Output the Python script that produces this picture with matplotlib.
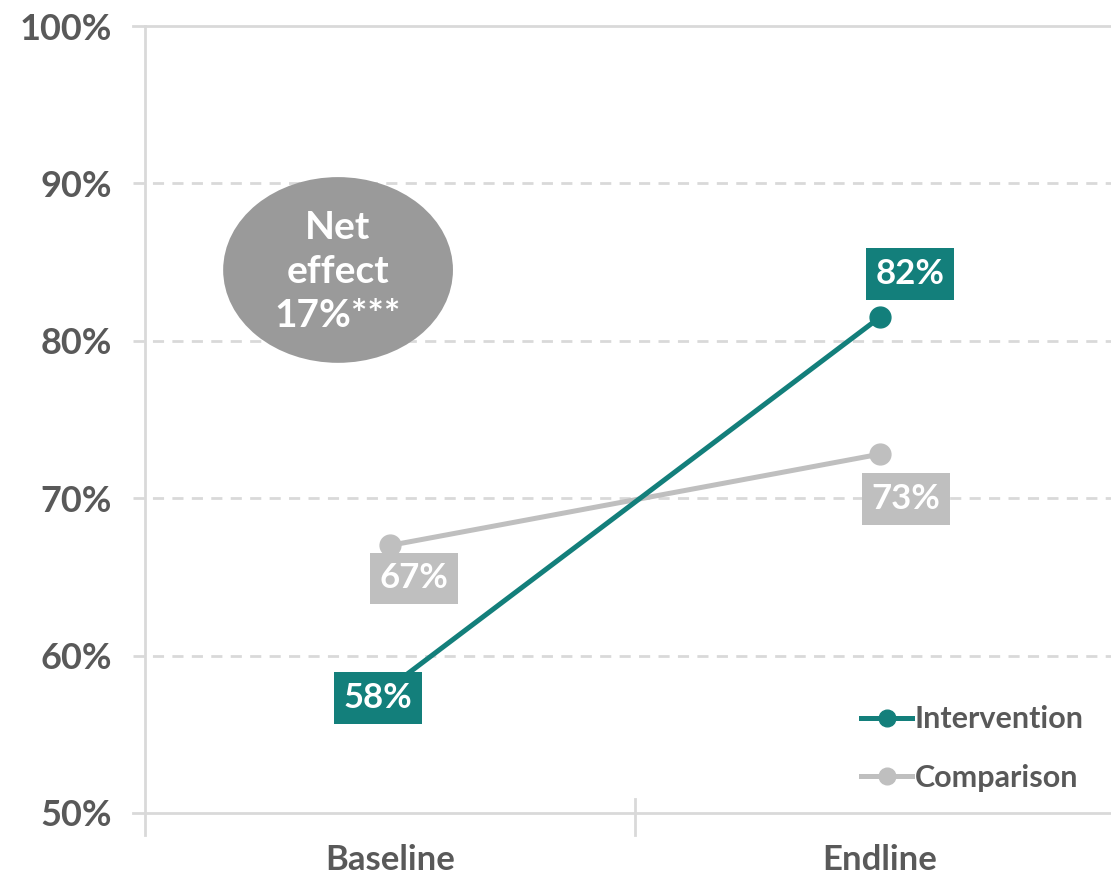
import matplotlib.pyplot as plt
from matplotlib.patches import Ellipse

# === DATA ===
categories = ["Baseline", "Endline"]
intervention = [58, 81.5]
comparison = [67, 72.8]
y_ticks = [50, 60, 70, 80, 90, 100]
net_effect = "Net\neffect\n17%***"

TEAL = "#137f7b"
GREY = "#bfbfbf"
TXT = "#595959"
GRID = "#d9d9d9"

plt.rcParams['font.family'] = ['Lato', 'DejaVu Sans']

fig = plt.figure(figsize=(11.11, 8.77), dpi=100)
ax = fig.add_axes([145 / 1111, 64 / 877, 980 / 1111, 787 / 877])

x = list(range(len(categories)))
ax.plot(x, comparison, color=GREY, lw=3.6, marker='o', ms=15, label="Comparison", zorder=3)
ax.plot(x, intervention, color=TEAL, lw=3.6, marker='o', ms=15, label="Intervention", zorder=4)

ax.set_xlim(-0.5, 1.5)
ax.set_ylim(50, 100)

# grid lines (dashed inside, solid at 50/100)
for v in y_ticks:
    ls = '-' if v in (50, 100) else (0, (4, 3))
    ax.plot([-0.525, 1.5], [v, v], color=GRID, lw=2, ls=ls, zorder=1, clip_on=False)
ax.plot([-0.5, -0.5], [48.6, 100], color=GRID, lw=2, zorder=1, clip_on=False)
ax.plot([0.5, 0.5], [48.6, 50.9], color=GRID, lw=2, zorder=1, clip_on=False)

for s in ax.spines.values():
    s.set_visible(False)
ax.set_yticks(y_ticks)
ax.set_yticklabels([f"{v}%" for v in y_ticks])
ax.set_xticks(x)
ax.set_xticklabels(categories)
ax.tick_params(axis='y', length=0, pad=24, labelsize=26, labelcolor=TXT)
ax.tick_params(axis='x', length=0, pad=22, labelsize=25, labelcolor=TXT)
for t in ax.get_yticklabels() + ax.get_xticklabels():
    t.set_fontweight('bold')

# value labels
offsets_int = [(-12, -11), (30, 43)]
offsets_cmp = [(24, -33), (26, -45)]
for i, v in enumerate(intervention):
    ax.annotate(f"{round(v)}%", (x[i], v), xytext=offsets_int[i], textcoords='offset pixels',
                ha='center', va='center', color='white', fontsize=25, fontweight='bold', zorder=6,
                bbox=dict(boxstyle='square,pad=0.28', fc=TEAL, ec='none'))
for i, v in enumerate(comparison):
    ax.annotate(f"{round(v)}%", (x[i], v), xytext=offsets_cmp[i], textcoords='offset pixels',
                ha='center', va='center', color='white', fontsize=25, fontweight='bold', zorder=5,
                bbox=dict(boxstyle='square,pad=0.28', fc=GREY, ec='none'))

# net effect bubble
ax.add_patch(Ellipse((-0.106, 84.5), 0.469, 11.8, fc='#9a9a9a', ec='none', zorder=2))
ax.text(-0.106, 84.4, net_effect, ha='center', va='center', color='white', fontsize=28,
        fontweight='bold', linespacing=1.3, zorder=3)

handles, labels = ax.get_legend_handles_labels()
leg = ax.legend(handles[::-1], labels[::-1], loc='lower right', bbox_to_anchor=(0.986, -0.008),
                frameon=False, fontsize=22, handlelength=1.65, handletextpad=0.1,
                labelspacing=1.0, markerscale=0.8)
for t in leg.get_texts():
    t.set_color(TXT)
    t.set_fontweight('bold')

fig.savefig("out.png", dpi=100)
